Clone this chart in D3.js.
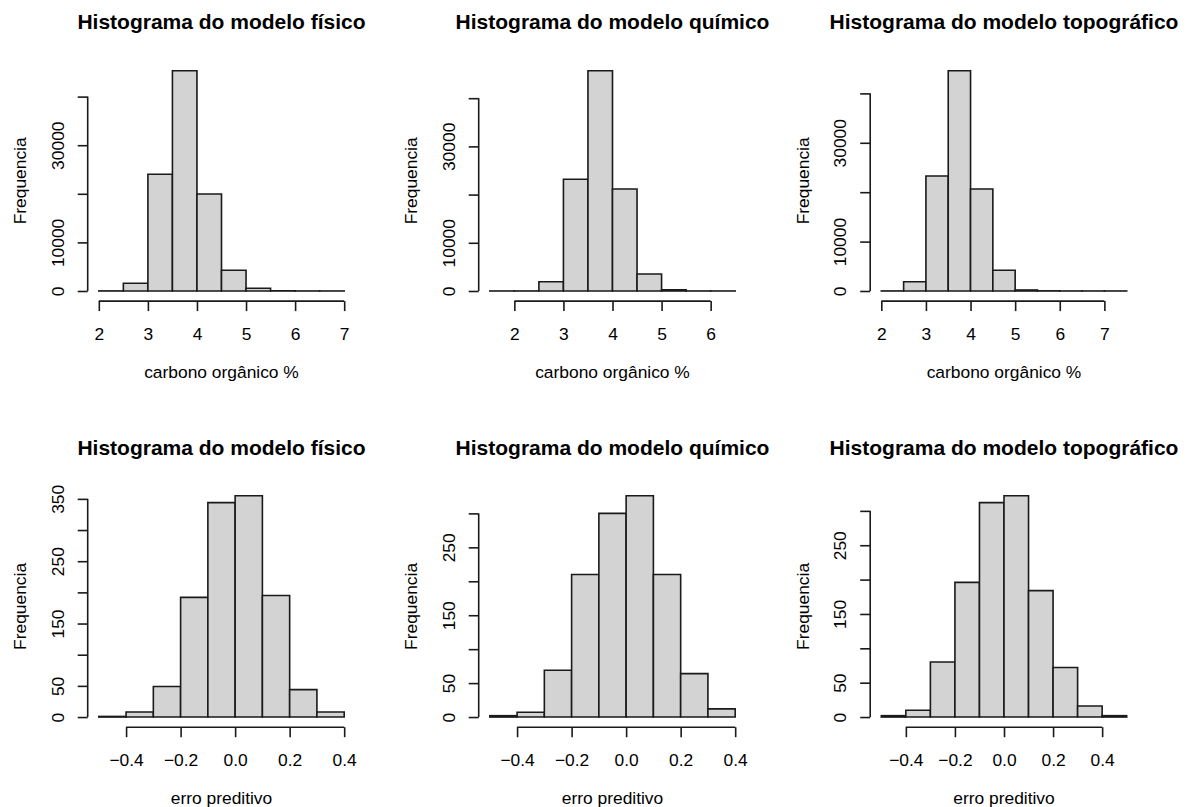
<!DOCTYPE html>
<html><head><meta charset="utf-8">
<script src="https://cdn.jsdelivr.net/npm/d3@7"></script>
<style>
body{margin:0;background:#fff}
svg text{font-family:"Liberation Sans", Arial, sans-serif;fill:#000}
</style>
</head><body>
<svg id="c" width="1188" height="807"></svg>
<script>
// ---------------- data ----------------
const titles = ["Histograma do modelo físico", "Histograma do modelo químico", "Histograma do modelo topográfico"];
const xLabelTop = "carbono orgânico %";
const xLabelBottom = "erro preditivo";
const yLabel = "Frequencia";

// top row: carbono orgânico, bins of width 0.5
const carbonBinWidth = 0.5;
const carbonStart = [2.0, 1.5, 2.0];
const carbonFisico  = [15, 1584, 24010, 45330, 19960, 4260, 560, 40, 6, 1];
const carbonQuimico = [1, 8, 1930, 23170, 45700, 21160, 3530, 250, 6, 1];
const carbonTopo    = [10, 1880, 23280, 44590, 20650, 4190, 200, 30, 5, 1, 1];
const carbonXTicks = [[2, 3, 4, 5, 6, 7], [2, 3, 4, 5, 6], [2, 3, 4, 5, 6, 7]];
const carbonYTicks = [0, 10000, 20000, 30000, 40000];
const carbonYLabels = [0, 10000, 30000];

// bottom row: erro preditivo, bins of width 0.1
const errBinWidth = 0.1;
const errStart = [-0.5, -0.5, -0.5];
const errFisico  = [1, 8, 49, 192, 344, 355, 195, 44, 8];
const errQuimico = [2, 7, 69, 210, 300, 326, 210, 64, 12];
const errTopo    = [2, 10, 80, 196, 312, 322, 184, 72, 16, 2];
const errXTicks = [-0.4, -0.2, 0.0, 0.2, 0.4];
const errYTicks = [[0, 50, 100, 150, 200, 250, 300, 350], [0, 50, 100, 150, 200, 250, 300], [0, 50, 100, 150, 200, 250, 300]];
const errYLabels = [[0, 50, 150, 250, 350], [0, 50, 150, 250], [0, 50, 150, 250]];

// ---------------- layout ----------------
const svg = d3.select("#c");
const colLeft = [89, 480, 871.5];
const plotW = 265;
const rows = [
  {top: 61.9, bottom: 299.8, title: 29, counts: [carbonFisico, carbonQuimico, carbonTopo], start: carbonStart, bw: carbonBinWidth,
   xticks: carbonXTicks, yticks: [carbonYTicks, carbonYTicks, carbonYTicks], ylabels: [carbonYLabels, carbonYLabels, carbonYLabels],
   xlab: xLabelTop, fmt: d3.format("d")},
  {top: 486.9, bottom: 725.9, title: 455, counts: [errFisico, errQuimico, errTopo], start: errStart, bw: errBinWidth,
   xticks: [errXTicks, errXTicks, errXTicks], yticks: errYTicks, ylabels: errYLabels,
   xlab: xLabelBottom, fmt: d3.format(".1f")}
];
const FS = 17.4, TFS = 21;
const stroke = "#1a1a1a", sw = 1.6, axOff = 1.3;

rows.forEach(row => {
  row.counts.forEach((counts, c) => {
    const left = colLeft[c], right = left + plotW;
    const b0 = row.start[c];
    const bins = counts.map((v, i) => ({x0: +(b0 + i * row.bw).toFixed(4), x1: +(b0 + (i + 1) * row.bw).toFixed(4), n: v}));
    const xMin = bins[0].x0, xMax = bins[bins.length - 1].x1, R = xMax - xMin;
    const M = d3.max(counts);
    const x = d3.scaleLinear().domain([xMin - 0.04 * R, xMax + 0.04 * R]).range([left, right]);
    const y = d3.scaleLinear().domain([-0.04 * M, 1.04 * M]).range([row.bottom, row.top]);
    const g = svg.append("g");

    // bars
    g.selectAll("path.bar").data(bins).join("path")
      .attr("class", "bar")
      .attr("d", d => `M${x(d.x0)},${y(0)}V${y(d.n)}H${x(d.x1)}V${y(0)}Z`)
      .attr("fill", "#d3d3d3").attr("stroke", stroke).attr("stroke-width", sw);

    // x axis
    const xt = row.xticks[c];
    const axY = row.bottom + axOff;
    const gx = g.append("g").attr("transform", `translate(0,${axY})`)
      .call(d3.axisBottom(x).tickValues(xt).tickSize(10).tickSizeOuter(0).tickFormat(row.fmt));
    gx.select(".domain").remove();
    gx.selectAll(".tick line").attr("stroke", stroke).attr("stroke-width", sw);
    gx.selectAll(".tick text").attr("y", 38.5).attr("dy", null).attr("font-size", FS)
      .attr("font-family", "Liberation Sans, Arial, sans-serif").attr("fill", "#000");
    gx.append("line").attr("x1", x(xt[0])).attr("x2", x(xt[xt.length - 1]))
      .attr("stroke", stroke).attr("stroke-width", sw);

    // y axis
    const yt = row.yticks[c], yl = row.ylabels[c];
    const axX = left - axOff;
    const gy = g.append("g").attr("transform", `translate(${axX},0)`)
      .call(d3.axisLeft(y).tickValues(yt).tickSize(10).tickSizeOuter(0)
        .tickFormat(v => yl.includes(v) ? d3.format("d")(v) : ""));
    gy.select(".domain").remove();
    gy.selectAll(".tick line").attr("stroke", stroke).attr("stroke-width", sw);
    gy.selectAll(".tick text").attr("x", null).attr("dy", null)
      .attr("transform", "translate(-24,0) rotate(-90)")
      .attr("text-anchor", "middle").attr("font-size", FS)
      .attr("font-family", "Liberation Sans, Arial, sans-serif").attr("fill", "#000");
    gy.append("line").attr("y1", y(yt[0])).attr("y2", y(yt[yt.length - 1]))
      .attr("stroke", stroke).attr("stroke-width", sw);

    // labels
    const cx = (left + right) / 2;
    g.append("text").attr("x", cx).attr("y", row.title).attr("text-anchor", "middle")
      .attr("font-size", TFS).attr("font-weight", "bold").text(titles[c]);
    g.append("text").attr("x", cx).attr("y", row.bottom + 78).attr("text-anchor", "middle")
      .attr("font-size", FS).text(row.xlab);
    g.append("text").attr("transform", `translate(${left - 63},${(row.top + row.bottom) / 2}) rotate(-90)`)
      .attr("text-anchor", "middle").attr("font-size", FS).text(yLabel);
  });
});
</script>
</body></html>
